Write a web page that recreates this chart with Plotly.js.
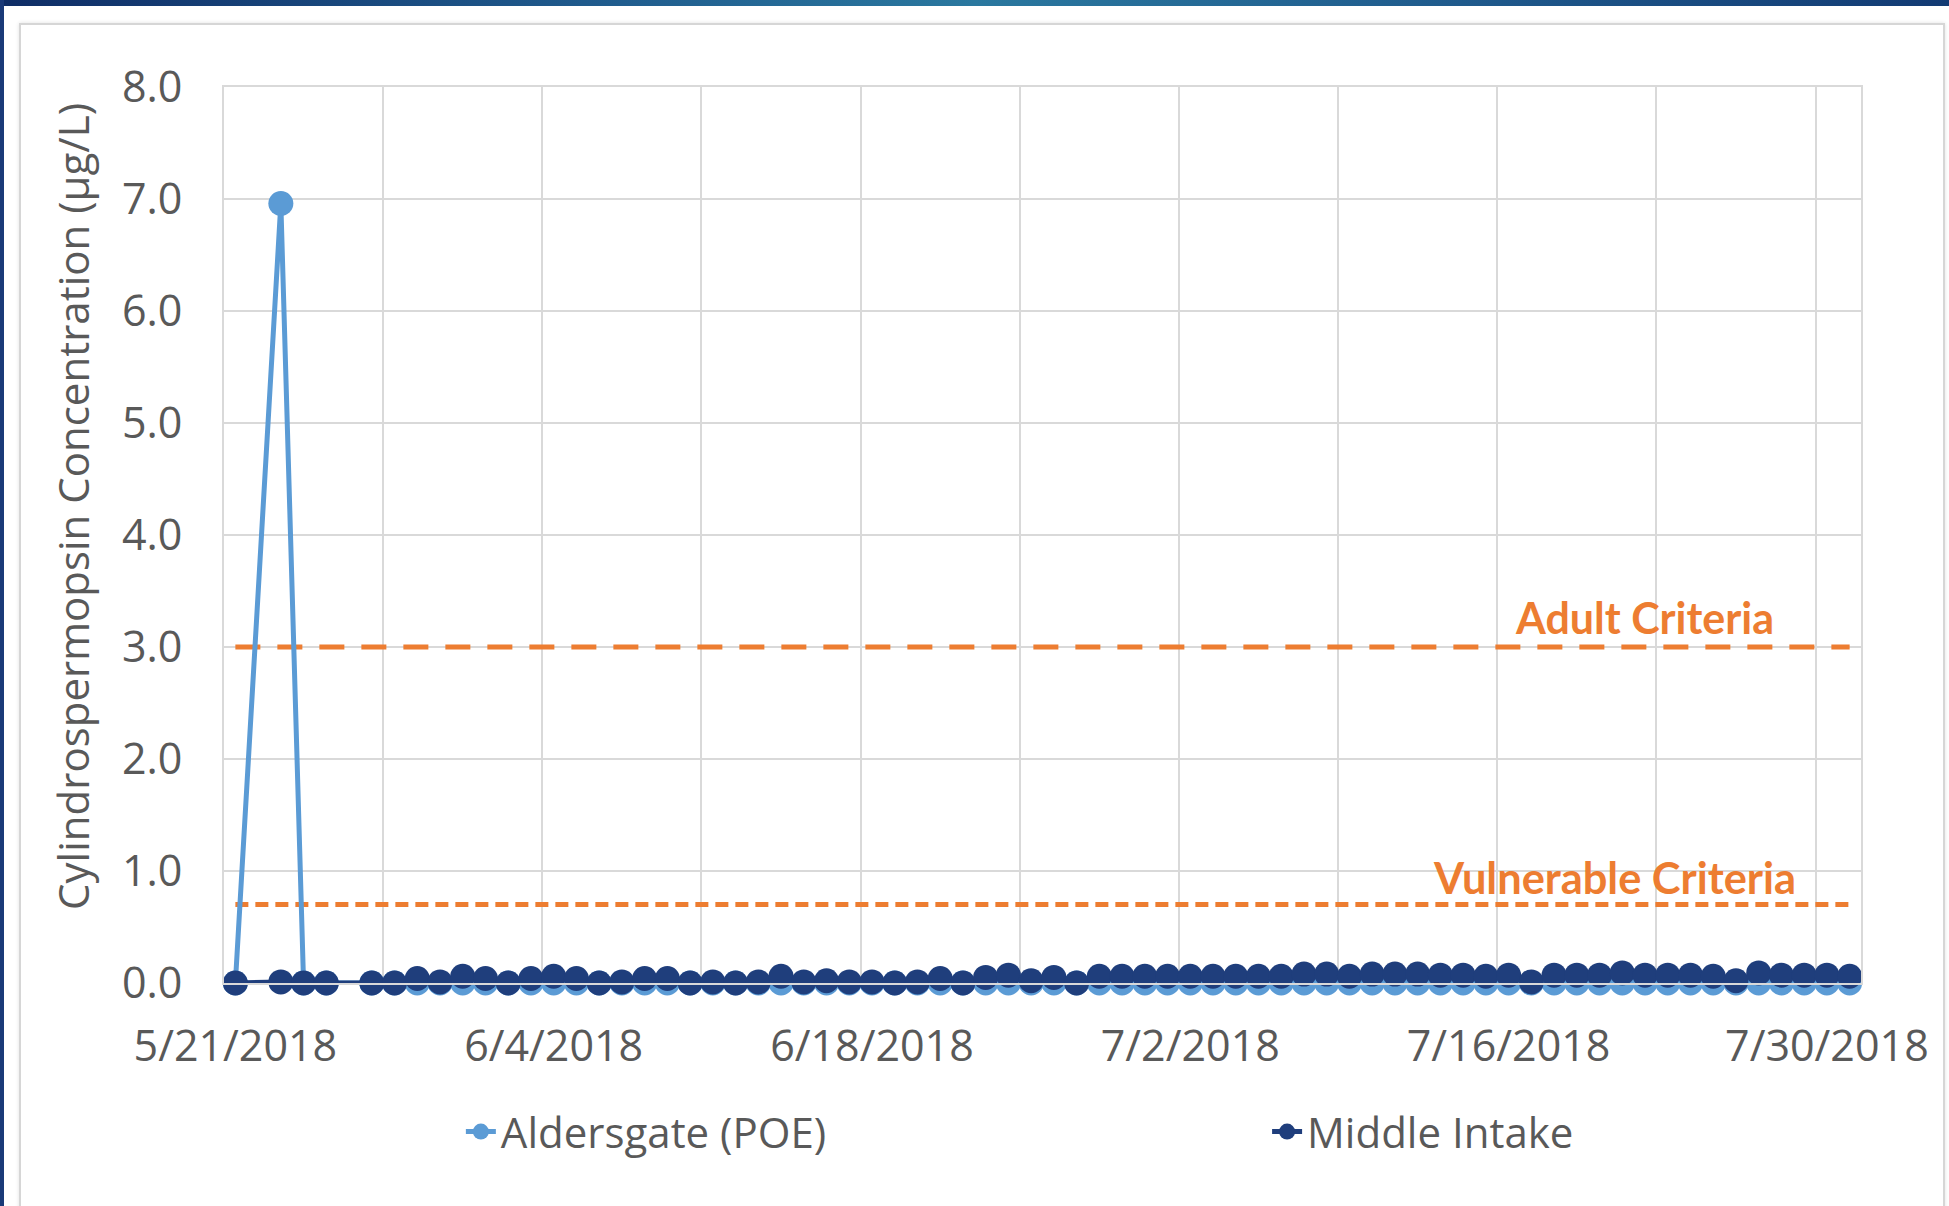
<!DOCTYPE html>
<html>
<head>
<meta charset="utf-8">
<script src="https://cdn.plot.ly/plotly-3.0.1.min.js"></script>
<style>
  html, body { margin: 0; padding: 0; background: #ffffff; }
  #wrap { position: relative; width: 1949px; height: 1206px; overflow: hidden; background: #ffffff; }
  #band { position: absolute; left: 0; top: 0; width: 1949px; height: 6px;
          background: linear-gradient(90deg, #0f2d66 0%, #1f5a8c 30%, #2a789f 50%, #1f5a8c 75%, #123a73 100%); }
  #leftbar { position: absolute; left: 0; top: 0; width: 4px; height: 1206px; background: #1a3a78; }
  #card { position: absolute; left: 19px; top: 23px; width: 1922px; height: 1220px;
          border: 2px solid #d6d6d6; box-shadow: 0 0 4px rgba(0,0,0,0.12); background: #ffffff; }
  #chart { position: absolute; left: 0; top: 0; width: 1949px; height: 1206px; }
</style>
</head>
<body>
<div id="wrap">
  <div id="band"></div>
  <div id="leftbar"></div>
  <div id="card"></div>
  <div id="chart"></div>
</div>
<script>
// ---- Data ----
const sampleDates = [
  '2018-05-21','2018-05-23','2018-05-24','2018-05-25',
  '2018-05-27','2018-05-28','2018-05-29','2018-05-30','2018-05-31',
  '2018-06-01','2018-06-02','2018-06-03','2018-06-04','2018-06-05','2018-06-06','2018-06-07',
  '2018-06-08','2018-06-09','2018-06-10','2018-06-11','2018-06-12','2018-06-13','2018-06-14',
  '2018-06-15','2018-06-16','2018-06-17','2018-06-18','2018-06-19','2018-06-20','2018-06-21',
  '2018-06-22','2018-06-23','2018-06-24','2018-06-25','2018-06-26','2018-06-27','2018-06-28',
  '2018-06-29','2018-06-30','2018-07-01','2018-07-02','2018-07-03','2018-07-04','2018-07-05',
  '2018-07-06','2018-07-07','2018-07-08','2018-07-09','2018-07-10','2018-07-11','2018-07-12',
  '2018-07-13','2018-07-14','2018-07-15','2018-07-16','2018-07-17','2018-07-18','2018-07-19',
  '2018-07-20','2018-07-21','2018-07-22','2018-07-23','2018-07-24','2018-07-25','2018-07-26',
  '2018-07-27','2018-07-28','2018-07-29','2018-07-30','2018-07-31'
];

const aldersgatePOE = [
  0.00, 6.96, 0.00, 0.00,
  0.00, 0.00, 0.00, 0.00, 0.00,
  0.00, 0.00, 0.00, 0.00, 0.00, 0.00, 0.00,
  0.00, 0.00, 0.00, 0.00, 0.00, 0.00, 0.00,
  0.00, 0.00, 0.00, 0.00, 0.00, 0.00, 0.00,
  0.00, 0.00, 0.00, 0.00, 0.00, 0.00, 0.00,
  0.00, 0.00, 0.00, 0.00, 0.00, 0.00, 0.00,
  0.00, 0.00, 0.00, 0.00, 0.00, 0.00, 0.00,
  0.00, 0.00, 0.00, 0.00, 0.00, 0.00, 0.00,
  0.00, 0.00, 0.00, 0.00, 0.00, 0.00, 0.00,
  0.00, 0.00, 0.00, 0.00, 0.00
];

const middleIntake = [
  0.00, 0.01, 0.00, 0.00,
  0.00, 0.00, 0.04, 0.01, 0.06,
  0.04, 0.00, 0.04, 0.06, 0.04, 0.00, 0.01,
  0.04, 0.04, 0.00, 0.01, 0.00, 0.01, 0.06,
  0.01, 0.02, 0.01, 0.01, 0.00, 0.01, 0.04,
  0.00, 0.05, 0.07, 0.02, 0.05, 0.00, 0.06,
  0.06, 0.06, 0.06, 0.06, 0.06, 0.06, 0.06,
  0.06, 0.08, 0.08, 0.06, 0.08, 0.08, 0.08,
  0.07, 0.07, 0.06, 0.07, 0.01, 0.07, 0.07,
  0.07, 0.09, 0.07, 0.07, 0.07, 0.06, 0.02,
  0.09, 0.07, 0.07, 0.07, 0.06
];

const criteriaDates = ['2018-05-21', '2018-07-31'];
const adultCriteria = 3.0;
const vulnerableCriteria = 0.7;

const seriesNames = ['Aldersgate (POE)', 'Middle Intake'];
const criteriaLabels = ['Adult Criteria', 'Vulnerable Criteria'];
const yAxisTitle = 'Cylindrospermopsin Concentration (µg/L)';

// ---- Styles ----
const LIGHT = '#5B9BD5', DARK = '#1F3E7C', ORANGE = '#ED7D31', GRID = '#D9D9D9', TXT = '#595959';
const FONT = 'Open Sans, Noto Sans, sans-serif';

const traces = [
  {
    x: criteriaDates, y: criteriaDates.map(() => adultCriteria),
    mode: 'lines', showlegend: false, hoverinfo: 'skip', cliponaxis: false,
    line: { color: ORANGE, width: 5, dash: '25px,17px' }
  },
  {
    x: criteriaDates, y: criteriaDates.map(() => vulnerableCriteria),
    mode: 'lines', showlegend: false, hoverinfo: 'skip', cliponaxis: false,
    line: { color: ORANGE, width: 5, dash: '13px,7px' }
  },
  {
    name: seriesNames[0], x: sampleDates, y: aldersgatePOE,
    mode: 'lines+markers', cliponaxis: false, legend: 'legend',
    line: { color: LIGHT, width: 5 },
    marker: { color: LIGHT, size: 25 }
  },
  {
    name: seriesNames[1], x: sampleDates, y: middleIntake,
    mode: 'lines+markers', cliponaxis: false, legend: 'legend2',
    line: { color: DARK, width: 5 },
    marker: { color: DARK, size: 25 }
  }
];

const legendBase = {
  orientation: 'h', yanchor: 'middle', y: -0.166, xanchor: 'left',
  font: { family: FONT, size: 42, color: TXT },
  bgcolor: 'rgba(0,0,0,0)', itemsizing: 'trace'
};

const layout = {
  width: 1949, height: 1206,
  margin: { l: 224, r: 88, t: 87, b: 223 },
  paper_bgcolor: 'rgba(0,0,0,0)',
  plot_bgcolor: '#ffffff',
  font: { family: FONT, color: TXT, size: 42 },
  showlegend: true,
  xaxis: {
    type: 'date',
    range: ['2018-05-20 12:00', '2018-07-31 12:00'],
    tickmode: 'linear', tick0: '2018-05-21', dtick: 14 * 86400000,
    tickformat: '%-m/%-d/%Y',
    showgrid: false,
    ticks: '', ticklabelstandoff: 24,
    tickfont: { family: FONT, size: 43, color: TXT },
    minor: { tickmode: 'linear', tick0: '2018-05-20 12:00', dtick: 7 * 86400000,
             showgrid: true, gridcolor: GRID, gridwidth: 2, ticks: '' },
    showline: true, linecolor: GRID, linewidth: 2, mirror: true,
    zeroline: false, fixedrange: true
  },
  yaxis: {
    range: [0, 8], tickmode: 'linear', tick0: 0, dtick: 1,
    tickformat: '.1f',
    showgrid: true, gridcolor: GRID, gridwidth: 2,
    ticks: '', ticklabelstandoff: 31,
    tickfont: { family: FONT, size: 43, color: TXT },
    showline: true, linecolor: GRID, linewidth: 2, mirror: true,
    zeroline: false, fixedrange: true
  },
  legend: Object.assign({}, legendBase, { x: 0.1447 }),
  legend2: Object.assign({}, legendBase, { x: 0.6372 }),
  annotations: [
    {
      text: yAxisTitle, textangle: -90,
      xref: 'paper', yref: 'paper', x: -0.0925, y: 0.532,
      xanchor: 'center', yanchor: 'middle', showarrow: false,
      font: { family: FONT, size: 42, color: TXT }
    },
    {
      text: '<b>' + criteriaLabels[0] + '</b>',
      xref: 'paper', yref: 'y', x: 0.8675, y: 3.26,
      xanchor: 'center', yanchor: 'middle', showarrow: false,
      font: { family: 'Lato, Open Sans, sans-serif', size: 43, color: ORANGE }
    },
    {
      text: '<b>' + criteriaLabels[1] + '</b>',
      xref: 'paper', yref: 'y', x: 0.8497, y: 0.945,
      xanchor: 'center', yanchor: 'middle', showarrow: false,
      font: { family: 'Lato, Open Sans, sans-serif', size: 43.4, color: ORANGE }
    }
  ]
};

Plotly.newPlot('chart', traces, layout, { staticPlot: true, displayModeBar: false });
</script>
</body>
</html>
